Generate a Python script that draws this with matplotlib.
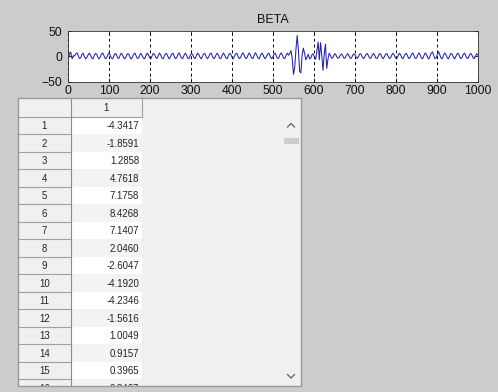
import matplotlib
matplotlib.use("Agg")
import matplotlib.pyplot as plt
from matplotlib.patches import Rectangle
import numpy as np

plt.rcParams["font.family"] = ["Liberation Sans", "DejaVu Sans"]

TITLE = "BETA"

# first samples of BETA (1..16), as listed in the table
BETA_HEAD = [-4.3417, -1.8591, 1.2858, 4.7618, 7.1758, 8.4268, 7.1407, 2.0460,
             -2.6047, -4.1920, -4.2346, -1.5616, 1.0049, 0.9157, 0.3965, 0.8467]

# rest of the trace, every third sample from 19 to 1000
TAIL_START, TAIL_STEP = 19, 3
BETA_TAIL = [
    4.5, 6.8, 1.2, -4.6, -3.0, 3.8, 5.9, -0.5, -5.2, -2.4, 2.9, 6.1, 2.0, -3.8, -4.9, 1.5, 5.4, 4.2, -2.1, -5.3,
    -1.0, 4.8, 6.3, 0.4, -4.7, -3.3, 2.6, 6.6, 1.9, -3.9, -5.1, 0.8, 5.7, 3.6, -2.8, -4.4, 1.7, 6.0, 2.5, -3.4,
    -5.0, 0.2, 5.1, 4.4, -1.6, -5.5, -1.9, 3.9, 6.4, 0.9, -4.3, -3.6, 2.2, 5.8, 1.1, -4.1, -4.8, 1.4, 6.2, 3.1,
    -2.6, -5.2, 0.6, 5.5, 4.0, -2.0, -4.6, 1.0, 6.5, 2.8, -3.5, -4.9, 0.3, 5.3, 4.7, -1.3, -5.4, -0.8, 4.6, 5.9,
    0.1, -4.8, -2.9, 3.3, 6.7, 1.6, -4.0, -4.2, 2.0, 6.0, 2.3, -3.7, -5.0, 1.2, 5.6, 3.4, -2.4, -4.7, 0.9, 5.9,
    3.8, -2.2, -5.3, -0.4, 4.9, 5.2, -1.1, -4.9, -1.8, 4.1, 6.3, 0.5, -4.5, -3.2, 2.7, 6.1, 1.8, -4.2, -4.4, 1.9,
    6.4, 2.7, -3.1, -5.0, 0.7, 5.5, 4.3, -2.0, -5.1, 0.0, 5.0, 5.6, -0.7, -4.8, -2.5, 3.6, 6.8, 1.3, -4.4, -3.9,
    2.4, 6.5, 2.0, -3.6, -4.6, 1.6, 6.9, 3.2, -2.9, -5.2, 0.4, 5.8, 4.5, -1.9, -5.0, -0.6, 4.7, 6.0, 0.2, -4.6,
    -3.0, 3.2, 6.3, 1.0, -4.4, -3.5, 3.0, 6.8, 2.0, -3.8, -4.5, 2.5, 6.0, 2.0, 6.0, 11.0, -6.0, -36.0, -22.0, 14.0,
    41.0, 12.0, -30.0, -33.0, 2.0, 16.0, 6.0, -7.0, -2.0, 4.0, -5.0, -4.0, 3.0, 5.0, -2.0, -6.0, 10.0, 28.0, -7.0, 27.0,
    2.0, -28.0, 5.0, 24.0, -24.0, -6.0, 6.0, 2.0, -4.0, -3.0, 3.0, 5.0, 0.0, -4.0, -3.0, 2.0, 4.5, 1.0, -3.8, -3.5,
    2.0, 5.2, 1.5, -3.6, -4.1, 1.2, 5.0, 3.0, -2.5, -4.3, 0.5, 4.8, 3.9, -1.7, -4.8, -0.9, 3.6, 5.4, 0.6, -4.0,
    -3.4, 2.3, 5.6, 1.9, -3.8, -4.5, 0.9, 5.3, 3.6, -2.2, -4.9, -0.3, 4.4, 5.1, -0.4, -4.6, -2.7, 3.0, 6.0, 1.7,
    -3.7, -4.6, 1.1, 5.9, 3.5, -2.6, -5.1, 0.2, 5.2, 5.0, -1.0, -5.0, -1.6, 4.0, 6.4, 1.2, -4.3, -3.6, 2.5, 6.6,
    2.4, -3.5, -5.0, 1.0, 6.2, 4.1, -2.3, -5.4, 0.6, 6.0, 8.5, 1.5, -4.6, -3.2, 4.0, 9.0, 2.6, -3.9, -4.8, 2.2,
    6.5, 3.0, -3.2, -5.1, 0.8, 5.8, 4.2, -1.8, -5.2, -0.5, 4.9, 5.7, -0.2, -4.7, -2.6, 3.5, 6.3, 1.4, -4.1, -4.0,
    1.9, 5.9, 2.7, -3.3, -4.7, 0.7, 5.0, 2.0,
]

X_TICKS = list(range(0, 1001, 100))
Y_TICKS = [-50, 0, 50]
COLUMN_LABEL = "1"

W, H = 498, 392
BG = "#cccccc"

fig = plt.figure(figsize=(W / 100, H / 100), dpi=100, facecolor=BG)

# ---- plot axes ----
ax_l, ax_r, ax_t, ax_b = 68, 478, 31, 81.5
ax = fig.add_axes([ax_l / W, 1 - ax_b / H, (ax_r - ax_l) / W, (ax_b - ax_t) / H], zorder=2)

x_head = np.arange(1, len(BETA_HEAD) + 1)
x_tail = TAIL_START + TAIL_STEP * np.arange(len(BETA_TAIL))
x = np.concatenate([x_head, x_tail])
y = np.concatenate([BETA_HEAD, BETA_TAIL])
ax.plot(x, y, color="#2222a8", lw=0.75)

ax.set_xlim(0, 1000)
ax.set_ylim(-50, 50)
ax.set_xticks(X_TICKS)
ax.set_yticks(Y_TICKS)
ax.tick_params(direction="in", length=3, width=0.6, top=True, right=True,
               labelsize=8.8, pad=2.5, colors="#111111")
ax.tick_params(axis="y", pad=4)
ax.grid(axis="x", color="black", linestyle=(0, (3, 3)), lw=0.7)
for sp in ax.spines.values():
    sp.set_linewidth(0.6)
    sp.set_color("#333333")
ax.set_title(TITLE, fontsize=9, pad=5.5, color="#111111")

# ---- table widget, drawn in pixel coordinates ----
ui = fig.add_axes([0, 0, 1, 1], zorder=1)
ui.set_xlim(0, W)
ui.set_ylim(H, 0)
ui.axis("off")

t_l, t_r, t_t, t_b = 18, 301, 98, 386
hdr_r = 70.7
col_r = 141.7
head_b = 116.9
row_h = 17.5
line_c = "#a0a0a0"
txt_c = "#222222"
fs = 6.9

ui.add_patch(Rectangle((t_l, t_t), t_r - t_l, t_b - t_t, fc="#f0f0f0", ec="none"))

n_rows = int(np.ceil((t_b - head_b) / row_h))
for k in range(n_rows):
    top = head_b + k * row_h
    fill = "white" if k % 2 == 0 else "#f3f3f3"
    ui.add_patch(Rectangle((hdr_r, top), col_r - hdr_r, row_h, fc=fill, ec="none"))
    ui.plot([t_l, hdr_r], [top + row_h, top + row_h], color=line_c, lw=0.8)
    ui.text((t_l + hdr_r) / 2, top + row_h / 2 + 0.5, str(k + 1), ha="center", va="center",
            fontsize=fs, color=txt_c)
    if k < len(BETA_HEAD):
        ui.text(col_r - 2.5, top + row_h / 2 + 0.5, f"{BETA_HEAD[k]:.4f}", ha="right",
                va="center", fontsize=fs, color=txt_c)

# header row and row-header column borders
ui.plot([t_l, col_r], [head_b, head_b], color=line_c, lw=0.8)
ui.plot([hdr_r, hdr_r], [t_t, t_b], color="#8c8c8c", lw=0.8)
ui.plot([col_r, col_r], [t_t, head_b], color=line_c, lw=0.8)
ui.text((hdr_r + col_r) / 2, (t_t + head_b) / 2 + 0.5, COLUMN_LABEL, ha="center", va="center",
        fontsize=fs, color=txt_c)

# scrollbar
sb_l = 283
ui.add_patch(Rectangle((sb_l, head_b), t_r - sb_l, t_b - head_b, fc="#f0f0f0", ec="none"))
arr_x = sb_l + 8
ui.plot([arr_x - 3.5, arr_x, arr_x + 3.5], [127, 123.5, 127], color="#606060", lw=0.9)
ui.add_patch(Rectangle((sb_l + 1, 138), 15, 6, fc="#cdcdcd", ec="none"))
ui.plot([arr_x - 3.5, arr_x, arr_x + 3.5], [374.5, 378, 374.5], color="#606060", lw=0.9)

# clip whatever spills past the bottom edge
ui.add_patch(Rectangle((0, t_b), W, H - t_b, fc=BG, ec="none", zorder=5))
ui.add_patch(Rectangle((t_l, t_t), t_r - t_l, t_b - t_t, fc="none", ec="#9a9a9a", lw=1.0, zorder=6))

fig.savefig("out.png", dpi=100, facecolor=BG)
